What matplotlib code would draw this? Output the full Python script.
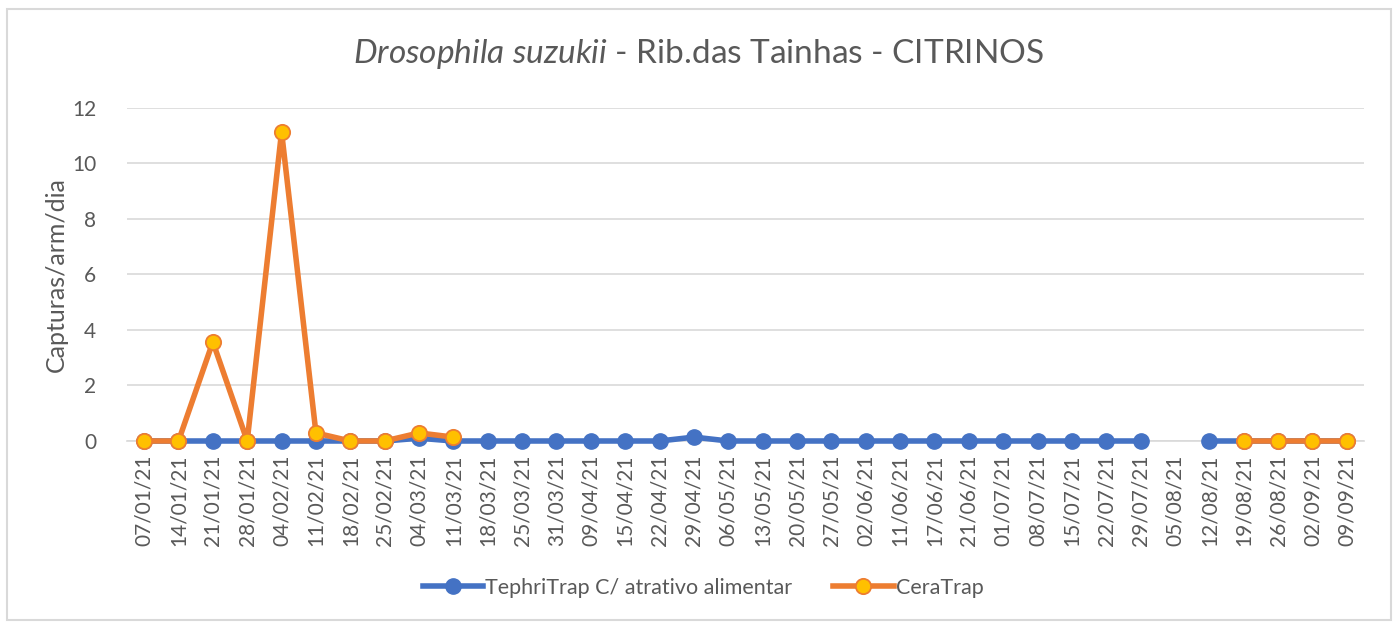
import matplotlib as mpl
mpl.use('Agg')
import matplotlib.pyplot as plt
from matplotlib.patches import Rectangle
import numpy as np

dates = ['07/01/21', '14/01/21', '21/01/21', '28/01/21', '04/02/21', '11/02/21',
         '18/02/21', '25/02/21', '04/03/21', '11/03/21', '18/03/21', '25/03/21',
         '31/03/21', '09/04/21', '15/04/21', '22/04/21', '29/04/21', '06/05/21',
         '13/05/21', '20/05/21', '27/05/21', '02/06/21', '11/06/21', '17/06/21',
         '21/06/21', '01/07/21', '08/07/21', '15/07/21', '22/07/21', '29/07/21',
         '05/08/21', '12/08/21', '19/08/21', '26/08/21', '02/09/21', '09/09/21']

nan = np.nan
tephritrap = [0, 0, 0, 0, 0, 0, 0, 0, 0.1, 0, 0, 0,
              0, 0, 0, 0, 0.14, 0, 0, 0, 0, 0, 0, 0,
              0, 0, 0, 0, 0, 0, nan, 0, 0, 0, 0, 0]
ceratrap = [0, 0, 3.57, 0, 11.14, 0.29, 0, 0, 0.29, 0.14, nan, nan,
            nan, nan, nan, nan, nan, nan, nan, nan, nan, nan, nan, nan,
            nan, nan, nan, nan, nan, nan, nan, nan, 0, 0, 0, 0]

text_color = '#595959'
plt.rcParams['font.family'] = ['Lato', 'DejaVu Sans']
plt.rcParams['mathtext.fontset'] = 'custom'
plt.rcParams['mathtext.it'] = 'Lato:italic'
plt.rcParams['mathtext.rm'] = 'Lato'

fig = plt.figure(figsize=(13.98, 6.22), dpi=100)
ax = fig.add_axes([0.0908, 0.291, 0.8849, 0.5354])

x = np.arange(len(dates))
ax.plot(x, tephritrap, color='#4472C4', linewidth=4, marker='o', markersize=11,
        markerfacecolor='#4472C4', markeredgecolor='#4472C4',
        label='TephriTrap C/ atrativo alimentar', clip_on=False, zorder=3)
ax.plot(x, ceratrap, color='#ED7D31', linewidth=4, marker='o', markersize=11,
        markerfacecolor='#FFC000', markeredgecolor='#ED7D31', markeredgewidth=1.3,
        label='CeraTrap', clip_on=False, zorder=4)

ax.set_xlim(-0.5, len(dates) - 0.5)
ax.set_ylim(0, 12)
ax.set_yticks(range(0, 13, 2))
ax.set_xticks(x)
ax.set_xticklabels(dates, rotation=90)
ax.tick_params(axis='both', length=0, labelsize=15, colors=text_color)
ax.tick_params(axis='x', pad=10)
ax.tick_params(axis='y', pad=22)
ax.grid(axis='y', color='#D9D9D9', linewidth=1.2)
ax.set_axisbelow(True)
for side in ['top', 'right', 'left']:
    ax.spines[side].set_visible(False)
ax.spines['bottom'].set_color('#D9D9D9')
ax.spines['bottom'].set_linewidth(1.2)

ax.set_ylabel('Capturas/arm/dia', fontsize=18, color=text_color, labelpad=3)
fig.text(0.5, 0.913, r'$\it{Drosophila\ suzukii}$ - Rib.das Tainhas - CITRINOS',
         ha='center', va='center', fontsize=24, color=text_color)

leg = fig.legend(loc='center', bbox_to_anchor=(0.503, 0.055), ncol=2, frameon=False,
                 fontsize=15.5, labelcolor=text_color, handlelength=2.8,
                 handletextpad=0.1, columnspacing=1.9)

fig.patches.append(Rectangle((0.005, 0.003), 0.99, 0.982, transform=fig.transFigure,
                             fill=False, edgecolor='#D9D9D9', linewidth=1.5))

fig.savefig('out.png', dpi=100)
